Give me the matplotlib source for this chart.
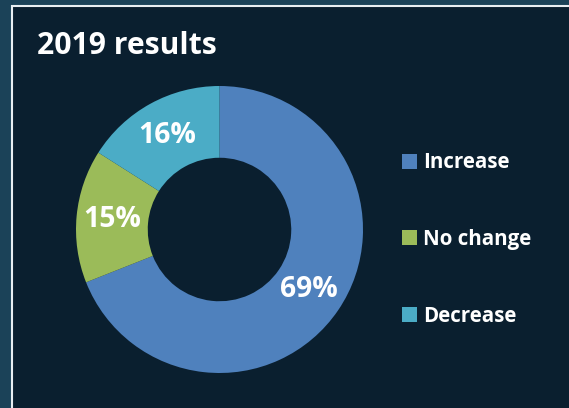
import matplotlib.pyplot as plt
from matplotlib.patches import Rectangle

# data
categories = ["Increase", "No change", "Decrease"]
shares = [69, 15, 16]
colors = ["#4f81bd", "#9bbb59", "#4bacc6"]
title = "2019 results"

W, H = 569, 408
frame_col = "#1b4258"
bg_col = "#0a1f2f"

plt.rcParams['font.family'] = ['Open Sans', 'DejaVu Sans']

fig = plt.figure(figsize=(W / 100, H / 100), dpi=100, facecolor=frame_col)

# inner panel with white border line (runs off the right/bottom edges)
fig.patches.append(Rectangle((12 / W, -0.1), 1.2, (H - 6) / H + 0.1, transform=fig.transFigure,
                             facecolor=bg_col, edgecolor="#e8eef2", linewidth=1.5, zorder=-1))

# pie axes: center (219.5, 229.5) px from top-left, radius 143.5 px
r = 143.5
cx, cy = 219.5, H - 229.5
ax = fig.add_axes([(cx - r) / W, (cy - r) / H, 2 * r / W, 2 * r / H])
ax.set_facecolor("none")

wedges, texts, autotexts = ax.pie(
    shares, colors=colors, startangle=90, counterclock=False,
    wedgeprops=dict(width=0.5, edgecolor="none"),
    autopct=lambda p: f"{p:.0f}%", pctdistance=0.75,
    textprops=dict(color="white", fontsize=20.3, fontweight="bold"))
ax.set_xlim(-1, 1)
ax.set_ylim(-1, 1)
ax.set_aspect("equal")

fig.text(37 / W, 1 - 46 / H, title, color="white", fontsize=21.7, fontweight="bold",
         ha="left", va="center")

leg = fig.legend(wedges, categories, loc="center left",
                 bbox_to_anchor=(394 / W, 1 - 239.5 / H),
                 frameon=False, fontsize=14.8, handlelength=0.72, handleheight=0.72,
                 handletextpad=0.28, labelspacing=2.7, borderaxespad=0)
for t in leg.get_texts():
    t.set_color("white")
    t.set_fontweight("bold")

fig.savefig("out.png", dpi=100, facecolor=frame_col)
